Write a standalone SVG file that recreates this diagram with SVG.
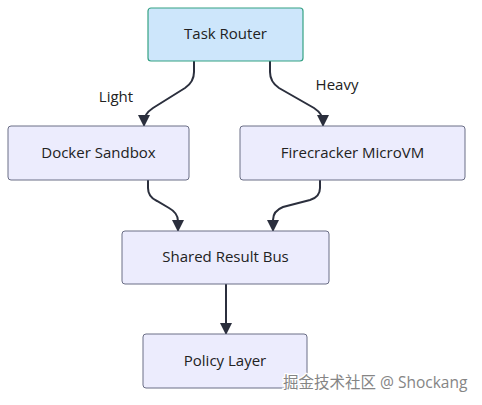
<svg xmlns="http://www.w3.org/2000/svg" width="482" height="405" viewBox="0 0 482 405">
<defs>
<style>
.node rect{fill:#ececfd;stroke:#6b6e86;stroke-width:1}
.router rect{fill:#cde6fb;stroke:#35a284;stroke-width:1.2}
.lbl{font-family:"Open Sans","Noto Sans",sans-serif;font-size:15px;fill:#222;text-anchor:middle;dominant-baseline:central}
.edge{fill:none;stroke:#2b2f3d;stroke-width:2}
.wm{font-family:"Open Sans","Noto Sans CJK SC",sans-serif;font-size:15.5px;fill:#858585;stroke:#fff;stroke-width:2.5;paint-order:stroke}
</style>
<marker id="ah" viewBox="0 0 12 12" refX="11" refY="6" markerWidth="12" markerHeight="12" orient="auto" markerUnits="userSpaceOnUse">
<path d="M0,0 L12,6 L0,12 z" fill="#2b2f3d"/>
</marker>
</defs>
<rect width="482" height="405" fill="#ffffff"/>
<g id="connectors">
<path class="edge" d="M194,61 V72 Q194,82 185,88 L153,108 Q144,114 144,122 V126" marker-end="url(#ah)"/>
<path class="edge" d="M270,61 V72 Q270,82 279,88 L314,108 Q323,114 323,122 V126" marker-end="url(#ah)"/>
<path class="edge" d="M148,180 V188 Q148,197 157,201 L169,208 Q178,213 178,221 V231" marker-end="url(#ah)"/>
<path class="edge" d="M320,180 V188 Q320,197 310,200 L283,207 Q273,211 273,220 V231" marker-end="url(#ah)"/>
<path class="edge" d="M226,284 V334" marker-end="url(#ah)"/>
<text class="lbl" x="116" y="96">Light</text>
<text class="lbl" x="337" y="84">Heavy</text>
</g>
<g id="task-router" class="router"><rect x="148" y="8" width="155" height="53" rx="3"/><text class="lbl" x="225.5" y="33">Task Router</text></g>
<g id="docker-sandbox" class="node"><rect x="8" y="126" width="181" height="54" rx="3"/><text class="lbl" x="98.5" y="152">Docker Sandbox</text></g>
<g id="firecracker-microvm" class="node"><rect x="240" y="126" width="225" height="54" rx="3"/><text class="lbl" x="352.5" y="152">Firecracker MicroVM</text></g>
<g id="shared-result-bus" class="node"><rect x="122" y="231" width="207" height="53" rx="3"/><text class="lbl" x="225.5" y="256">Shared Result Bus</text></g>
<g id="policy-layer" class="node"><rect x="143" y="334" width="164" height="54" rx="3"/><text class="lbl" x="225" y="360">Policy Layer</text></g>
<text class="wm" x="283" y="388">掘金技术社区 @ Shockang</text>
</svg>
